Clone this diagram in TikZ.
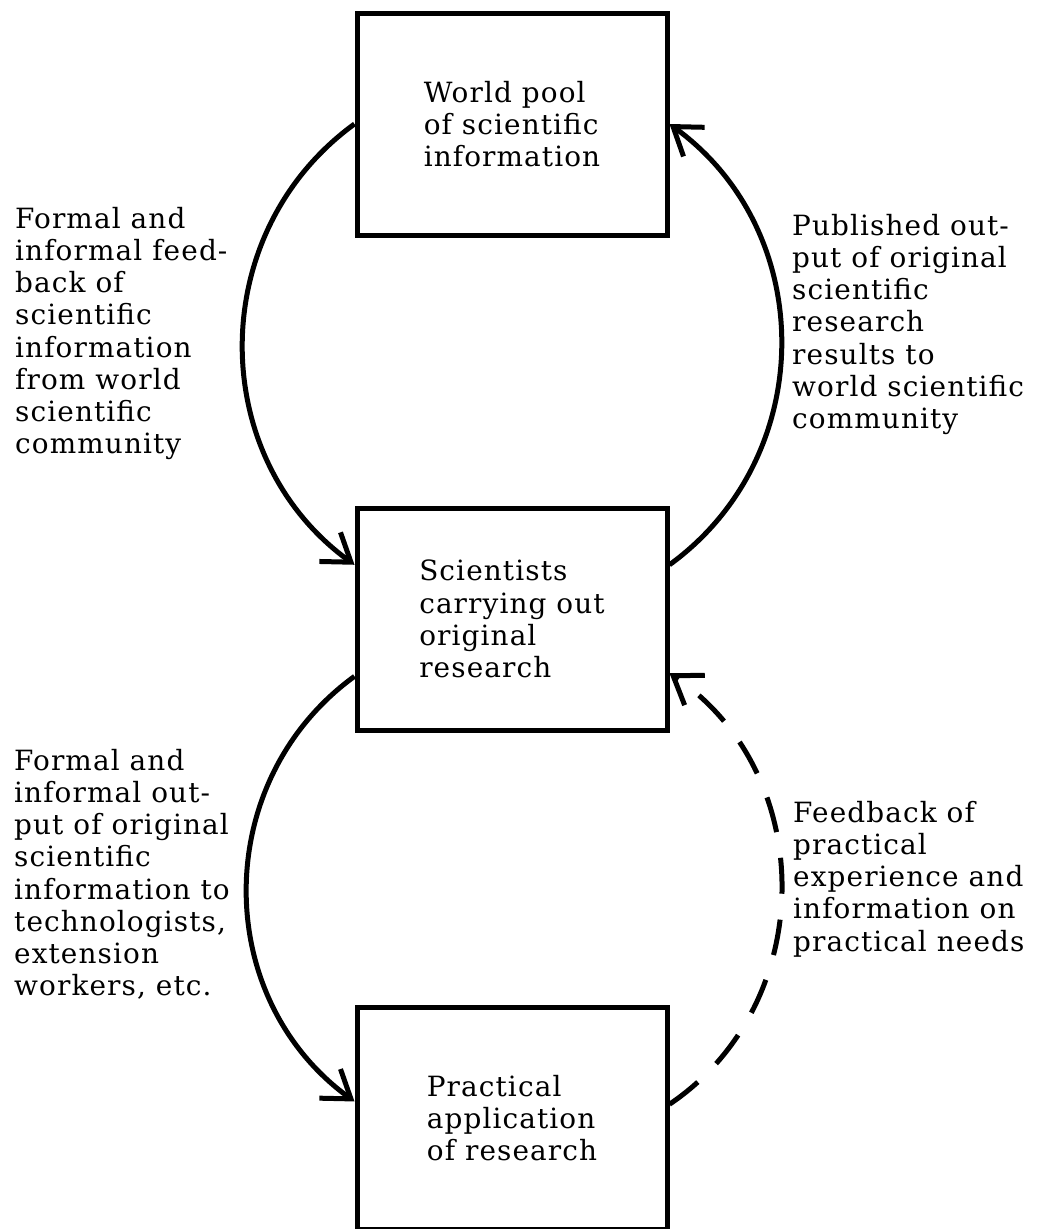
\documentclass[tikz,border=0pt]{standalone}
\usepackage{fontspec}
\setmainfont{DejaVu Serif}[LetterSpace=4]
\usetikzlibrary{arrows.meta,positioning}

\newcommand{\txt}{\fontsize{28}{32.3}\selectfont}

\begin{document}
\begin{tikzpicture}[x=1bp,y=1bp,
    box/.style={draw,line width=5bp,minimum width=310bp,minimum height=222bp,align=left,font=\txt},
    note/.style={anchor=north west,inner sep=0pt,align=left,font=\txt},
    flow/.style={line width=5bp,-{Straight Barb[length=26bp,width=36bp]}},
    loop/.style={bend right=54,looseness=1.07}]
\useasboundingbox (0,0) rectangle (1048,-1229);

% the three boxes
\node[box] (pool) at (512,-124) {World pool\\of scientific\\information};
\node[box,below=268bp of pool] (sci) {Scientists\\carrying out\\original\\research};
\node[box,below=272bp of sci] (app) {Practical\\application\\of research};

% flows between them
\draw[flow] (pool.west) to[loop] (sci.161);
\draw[flow] (sci.19) to[loop] (pool.east);
\draw[flow] (sci.200) to[loop] (app.174);
\draw[flow,dash pattern=on 36bp off 26bp] (app.5) to[loop,bend right=56] (sci.-19);

% side texts
\node[note] (fbin) at (15,-207) {Formal and\\informal feed-\\back of\\scientific\\information\\from world\\scientific\\community};
\node[note] (pubout) at (792,-214) {Published out-\\put of original\\scientific\\research\\results to\\world scientific\\community};
\node[note] (outtech) at (14,-749) {Formal and\\informal out-\\put of original\\scientific\\information to\\technologists,\\extension\\workers, etc.};
\node[note] (fbprac) at (793,-801) {Feedback of\\practical\\experience and\\information on\\practical needs};
\end{tikzpicture}
\end{document}
